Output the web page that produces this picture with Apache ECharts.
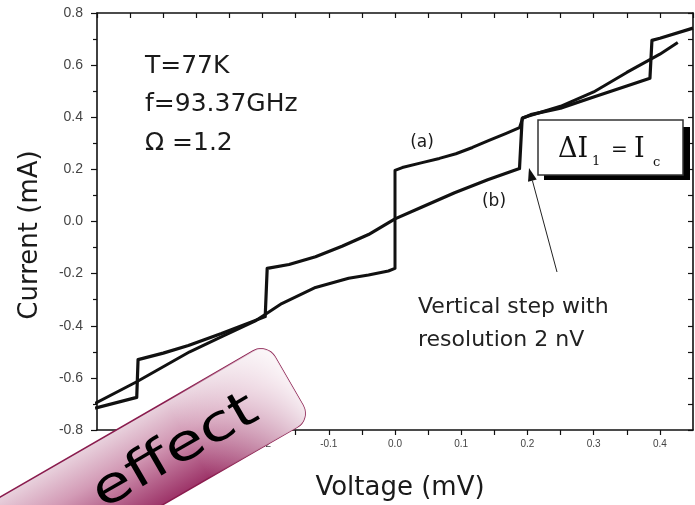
<!DOCTYPE html>
<html>
<head>
<meta charset="utf-8">
<script src="https://cdn.jsdelivr.net/npm/echarts@6/dist/echarts.min.js"></script>
<style>html,body{margin:0;padding:0;background:#fff}#c{width:695px;height:505px}</style>
</head>
<body>
<div id="c"></div>
<script>
// Curve (a): supercurrent step at V=0, no Shapiro steps
const aV = [-0.453, -0.39, -0.31, -0.26, -0.21, -0.195, -0.171, -0.12, -0.07, -0.04, -0.01, 0, 0, 0.011, 0.041, 0.067, 0.092, 0.117, 0.142, 0.168, 0.188, 0.193, 0.25, 0.30, 0.35, 0.40, 0.427];
const aI = [-0.698, -0.615, -0.50, -0.44, -0.38, -0.355, -0.315, -0.253, -0.218, -0.205, -0.19, -0.18, 0.196, 0.207, 0.226, 0.242, 0.26, 0.284, 0.311, 0.338, 0.36, 0.398, 0.442, 0.497, 0.572, 0.642, 0.687];
// Curve (b): Shapiro steps at V = n*0.193 mV
const bV = [-0.453, -0.39, -0.388, -0.35, -0.312, -0.262, -0.196, -0.193, -0.16, -0.12, -0.08, -0.04, 0, 0.04, 0.09, 0.14, 0.188, 0.192, 0.205, 0.25, 0.30, 0.35, 0.385, 0.388, 0.40, 0.45];
const bI = [-0.716, -0.675, -0.53, -0.505, -0.476, -0.43, -0.365, -0.18, -0.165, -0.135, -0.095, -0.05, 0.01, 0.055, 0.11, 0.16, 0.203, 0.395, 0.41, 0.435, 0.478, 0.52, 0.55, 0.695, 0.703, 0.742];

const xMin = -0.45, xMax = 0.45, xStep = 0.05;
const yMin = -0.8, yMax = 0.8, yStep = 0.2;

const infoLines = ['T=77K', 'f=93.37GHz', '\u03A9 =1.2'];
const noteLines = ['Vertical step with', 'resolution 2 nV'];

const pairs = (xs, ys) => xs.map((x, i) => [x, ys[i]]);

const chart = echarts.init(document.getElementById('c'), null, {renderer: 'canvas'});
const sans = '"DejaVu Sans", sans-serif';
const serif = '"DejaVu Serif", serif';
const ink = '#111';

const axisLine = {show: true, onZero: false, lineStyle: {color: ink, width: 1.6}};

// arrow geometry (annotation)
const tip = [529, 168], tail = [557, 272];
const dx = tip[0] - tail[0], dy = tip[1] - tail[1], L = Math.hypot(dx, dy);
const ux = dx / L, uy = dy / L;
const hb = [tip[0] - 13 * ux, tip[1] - 13 * uy];
const head = [tip, [hb[0] - 4.5 * uy, hb[1] + 4.5 * ux], [hb[0] + 4.5 * uy, hb[1] - 4.5 * ux]];

const graphics = [
  ...infoLines.map((t, i) => ({
    type: 'text', x: 145, y: [66, 104, 143][i], z: 10,
    style: {text: t, font: '25px ' + sans, fill: '#1a1a1a', verticalAlign: 'middle', align: 'left'}
  })),
  {type: 'text', x: 422, y: 143, z: 10, style: {text: '(a)', font: '17px ' + sans, fill: '#1a1a1a', align: 'center', verticalAlign: 'middle'}},
  {type: 'text', x: 494, y: 202, z: 10, style: {text: '(b)', font: '17px ' + sans, fill: '#1a1a1a', align: 'center', verticalAlign: 'middle'}},
  // box with shadow
  {type: 'rect', z: 10, shape: {x: 544, y: 127, width: 146, height: 53}, style: {fill: '#000'}},
  {type: 'rect', z: 11, shape: {x: 538, y: 120, width: 145, height: 55}, style: {fill: '#fff', stroke: '#333', lineWidth: 1.5}},
  {type: 'text', z: 12, x: 558, y: 150, style: {text: '\u0394I', font: '27px ' + serif, fill: '#111', verticalAlign: 'middle'}},
  {type: 'text', z: 12, x: 592, y: 162, style: {text: '1', font: '13px ' + serif, fill: '#111', verticalAlign: 'middle'}},
  {type: 'text', z: 12, x: 611, y: 151, style: {text: '=', font: '20px ' + serif, fill: '#111', verticalAlign: 'middle'}},
  {type: 'text', z: 12, x: 634, y: 150, style: {text: 'I', font: '27px ' + serif, fill: '#111', verticalAlign: 'middle'}},
  {type: 'text', z: 12, x: 653, y: 163, style: {text: 'c', font: '13px ' + serif, fill: '#111', verticalAlign: 'middle'}},
  // arrow
  {type: 'line', z: 10, shape: {x1: tail[0], y1: tail[1], x2: hb[0], y2: hb[1]}, style: {stroke: '#222', lineWidth: 1}},
  {type: 'polygon', z: 10, shape: {points: head}, style: {fill: '#111'}},
  ...noteLines.map((t, i) => ({
    type: 'text', x: 418, y: [307, 340][i], z: 10,
    style: {text: t, font: '22px ' + sans, fill: '#222', verticalAlign: 'middle', align: 'left'}
  })),
  // axis titles
  {type: 'text', x: 30, y: 235, rotation: Math.PI / 2, z: 10,
   style: {text: 'Current (mA)', font: '26px ' + sans, fill: '#1a1a1a', align: 'center', verticalAlign: 'middle'}},
  {type: 'text', x: 400, y: 488, z: 10,
   style: {text: 'Voltage (mV)', font: '26px ' + sans, fill: '#1a1a1a', align: 'center', verticalAlign: 'middle'}},
  // sticker
  {type: 'group', x: 267, y: 343, rotation: Math.PI / 6, z: 100, children: [
    {type: 'rect', z: 100, shape: {x: -420, y: 0, width: 420, height: 88, r: 16},
     style: {fill: new echarts.graphic.LinearGradient(0, 0, 0, 1, [
       {offset: 0, color: '#e9d3de'}, {offset: 0.4, color: '#d39bb6'}, {offset: 1, color: '#9c3267'}]),
       stroke: '#8a1c4e', lineWidth: 1.5}},
    {type: 'rect', z: 101, shape: {x: -420, y: 0, width: 420, height: 88, r: 16},
     style: {fill: new echarts.graphic.LinearGradient(0, 0, 1, 0, [
       {offset: 0, color: 'rgba(255,255,255,0)'}, {offset: 0.72, color: 'rgba(255,255,255,0)'},
       {offset: 1, color: 'rgba(255,255,255,0.88)'}])}},
    {type: 'text', z: 102, x: -134, y: 49, scaleX: 1.28,
     style: {text: 'effect', font: '50px ' + sans, fill: '#000', align: 'center', verticalAlign: 'middle'}}
  ]}
];

const option = {
  animation: false,
  backgroundColor: '#fff',
  grid: {left: 97, right: 2, top: 13, bottom: 75, containLabel: false, outerBoundsMode: 'none'},
  xAxis: [
    {type: 'value', position: 'bottom', min: xMin, max: xMax, interval: xStep,
     axisLine: axisLine,
     axisTick: {show: true, inside: false, length: 5, lineStyle: {color: ink, width: 1.2}},
     axisLabel: {show: true, margin: 9, fontSize: 10, color: '#444', fontFamily: 'Liberation Sans, Arial, sans-serif',
       showMinLabel: false, showMaxLabel: false,
       formatter: v => (Math.round(v / xStep) % 2 === 0 ? v.toFixed(1) : '')},
     splitLine: {show: false}},
    {type: 'value', position: 'top', min: xMin, max: xMax, interval: xStep,
     axisLine: axisLine,
     axisTick: {show: true, inside: true, length: 5, lineStyle: {color: ink, width: 1.2}},
     axisLabel: {show: false}, splitLine: {show: false}}
  ],
  yAxis: [
    {type: 'value', position: 'left', min: yMin, max: yMax, interval: yStep,
     axisLine: axisLine,
     axisTick: {show: true, inside: false, length: 6, lineStyle: {color: ink, width: 1.2}},
     minorTick: {show: true, splitNumber: 2, length: 4, lineStyle: {color: ink, width: 1.2}},
     axisLabel: {show: true, margin: 14, fontSize: 14, color: '#444', fontFamily: 'Liberation Sans, Arial, sans-serif',
       formatter: v => v.toFixed(1)},
     splitLine: {show: false}, minorSplitLine: {show: false}},
    {type: 'value', position: 'right', min: yMin, max: yMax, interval: yStep / 2,
     axisLine: axisLine,
     axisTick: {show: true, inside: true, length: 5, lineStyle: {color: ink, width: 1.2}},
     axisLabel: {show: false}, splitLine: {show: false}}
  ],
  series: [
    {name: '(a)', type: 'line', data: pairs(aV, aI), symbol: 'none', showSymbol: false,
     lineStyle: {color: ink, width: 3, join: 'round'}, xAxisIndex: 0, yAxisIndex: 0, z: 3},
    {name: '(b)', type: 'line', data: pairs(bV, bI), symbol: 'none', showSymbol: false,
     lineStyle: {color: ink, width: 3.2, join: 'round'}, xAxisIndex: 0, yAxisIndex: 0, z: 3}
  ],
  graphic: graphics
};
chart.setOption(option);
</script>
</body>
</html>
